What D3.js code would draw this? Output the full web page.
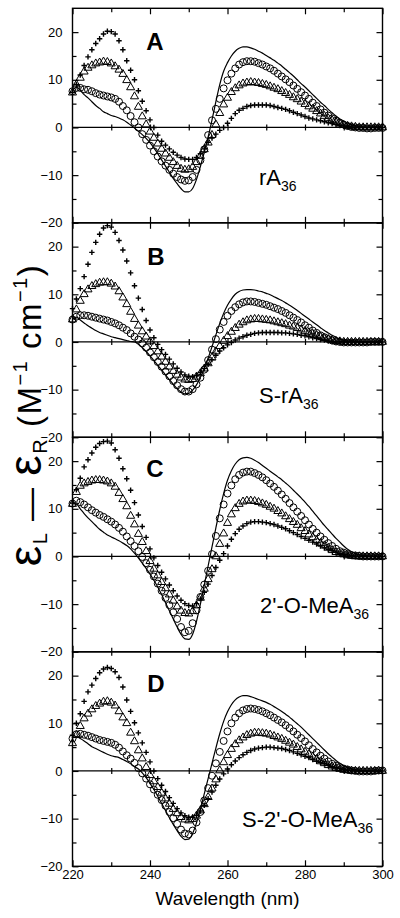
<!DOCTYPE html>
<html><head><meta charset="utf-8">
<script src="https://cdn.jsdelivr.net/npm/d3@7"></script>
<style>body{margin:0;background:#fff}svg{display:block}text{font-family:"Liberation Sans",Arial,Helvetica,sans-serif;fill:#000}</style>
</head><body><svg id="c" width="400" height="918"></svg>
<script>
const wavelength = [220,221,222,223,224,225,226,227,228,229,230,231,232,233,234,235,236,237,238,239,240,241,242,243,244,245,246,247,248,249,250,251,252,253,254,255,256,257,258,259,260,261,262,263,264,265,266,267,268,269,270,271,272,273,274,275,276,277,278,279,280,281,282,283,284,285,286,287,288,289,290,291,292,293,294,295,296,297,298,299,300];

// Panel A (rA36)
const solidA = [7.7,8.4,7.8,6.9,6.2,5.4,4.6,4.0,3.3,2.9, 2.5,2.3,2.0,1.6,1.1,0.5,-0.1,-0.8,-1.5,-2.3, -3.2,-4.3,-5.5,-6.8,-8.1,-9.4,-10.7,-11.8,-12.8,-13.5, -13.5,-12.8,-10.9,-8.2,-5.2,-2.0,1.6,5.4,9.0,11.8, 13.6,15.0,16.0,16.6,16.9,16.9,16.7,16.4,16.0,15.6, 15.1,14.6,14.1,13.5,12.9,12.2,11.5,10.8,10.0,9.2, 8.5,7.7,6.9,6.1,5.3,4.6,3.8,3.1,2.4,1.8, 1.3,0.9,0.6,0.4,0.2,0.1,0,0,0,0,0];
const circA = [7.6,8.3,8.3,8.0,7.9,7.6,7.2,6.9,6.7,6.5, 6.3,6.0,5.4,4.5,3.6,2.4,1.1,0.0,-1.4,-2.6, -3.8,-5.0,-6.1,-7.1,-8.0,-8.9,-9.7,-10.4,-10.9,-11.2, -11.1,-10.4,-8.9,-6.9,-4.6,-1.6,1.5,3.9,6.0,8.2, 9.9,11.3,12.4,13.2,13.7,13.9,13.9,13.8,13.5,13.2, 12.8,12.4,11.9,11.3,10.7,10.1,9.5,8.8,8.1,7.4, 6.7,6.0,5.2,4.5,3.8,3.1,2.5,1.9,1.4,1.0, 0.6,0.3,0.1,0.0,-0.1,-0.1,-0.2,-0.2,-0.1,-0.1,-0.1];
const triA = [7.3,9.0,10.4,11.7,12.5,13.0,13.4,13.6,13.8,13.7, 13.4,12.8,12.1,11.2,9.9,8.4,6.5,4.3,2.3,0.6, -0.9,-2.2,-3.4,-4.5,-5.5,-6.4,-7.3,-8.1,-8.7,-8.9, -8.8,-8.3,-7.3,-6.0,-4.6,-3.2,-1.6,0.6,3.0,4.8, 6.2,7.4,8.2,8.8,9.2,9.4,9.5,9.4,9.3,9.1, 8.9,8.6,8.3,8.0,7.6,7.2,6.8,6.3,5.9,5.4, 4.9,4.4,3.9,3.4,2.9,2.4,1.9,1.5,1.1,0.8, 0.5,0.3,0.2,0.1,0,0,0,0,0,0,0];
const plusA = [7.4,9.0,11.0,13.0,14.8,16.3,17.6,18.6,19.6,20.2, 20.1,19.6,18.2,16.3,14.0,12.0,10.0,7.7,5.5,3.5, 1.6,0.0,-1.6,-2.9,-3.7,-4.5,-5.2,-5.8,-6.3,-6.6, -6.7,-6.7,-6.3,-5.5,-4.5,-3.1,-2.2,-1.4,-0.6,0.0, 0.9,1.9,2.9,3.6,4.0,4.4,4.6,4.7,4.7,4.7, 4.7,4.6,4.4,4.2,4.0,3.8,3.5,3.2,2.9,2.6, 2.3,2.0,1.8,1.6,1.4,1.2,1.0,0.8,0.6,0.4, 0.3,0.2,0.1,0,0,0,0,0,0,0,0];

// Panel B (S-rA36)
const solidB = [4.8,5.2,4.6,4.0,3.4,2.9,2.4,2.0,1.7,1.4, 1.1,0.9,0.7,0.5,0.3,0.1,0.0,-0.5,-1.2,-2.0, -2.9,-3.9,-4.9,-5.9,-6.9,-7.9,-8.9,-9.8,-10.5,-10.9, -10.8,-10.1,-9.0,-7.4,-5.6,-3.4,-1.0,1.5,3.9,6.0, 7.7,9.0,10.0,10.6,10.9,11.0,11.0,10.9,10.7,10.5, 10.2,9.9,9.5,9.1,8.7,8.2,7.7,7.2,6.6,6.0, 5.4,4.8,4.2,3.6,3.0,2.4,1.9,1.4,1.0,0.6, 0.3,0.1,0,0,0,0,0,0,0,0,0];
const circB = [4.7,5.3,5.6,5.6,5.5,5.3,5.1,4.9,4.7,4.5, 4.2,3.9,3.5,3.0,2.5,1.8,1.1,0.5,-0.3,-1.2, -2.2,-3.2,-4.2,-5.2,-6.2,-7.2,-8.2,-9.1,-9.9,-10.4, -10.4,-9.9,-8.9,-7.5,-5.8,-3.8,-1.6,0.6,2.6,4.2, 5.5,6.5,7.3,7.9,8.3,8.5,8.5,8.4,8.2,8.0, 7.8,7.5,7.2,6.9,6.5,6.1,5.6,5.1,4.6,4.1, 3.5,3.0,2.4,1.9,1.4,1.0,0.6,0.3,0.1,0.0, -0.1,-0.1,-0.1,-0.1,-0.1,-0.1,-0.1,0,0,0,0];
const triB = [4.7,6.8,8.6,10.0,11.0,11.7,12.1,12.4,12.5,12.5, 12.2,11.6,10.6,9.3,7.9,6.3,4.8,3.4,2.2,1.1, 0.1,-0.9,-2.0,-3.1,-4.2,-5.2,-6.1,-6.9,-7.5,-7.9, -8.0,-7.8,-7.3,-6.6,-5.6,-4.5,-3.3,-2.0,-0.9,0.2, 1.2,2.1,2.9,3.6,4.1,4.5,4.7,4.8,4.8,4.7, 4.6,4.5,4.3,4.1,3.9,3.7,3.4,3.2,2.9,2.6, 2.3,2.0,1.7,1.4,1.1,0.8,0.6,0.4,0.2,0.1, 0,0,0,0,0,0,0,0,0,0,0];
const plusB = [7.0,9.0,11.2,13.7,16.3,18.8,20.9,22.6,23.9,24.4, 24.1,23.0,21.3,19.3,17.0,14.5,11.8,9.2,6.8,4.5, 2.5,0.9,-0.5,-1.6,-2.6,-3.6,-4.6,-5.5,-6.3,-6.9, -7.2,-7.3,-7.0,-6.4,-5.6,-4.7,-3.7,-2.8,-1.9,-1.2, -0.6,-0.1,0.4,0.8,1.1,1.4,1.6,1.8,1.9,2.0, 2.0,2.0,2.0,2.0,1.9,1.9,1.8,1.7,1.6,1.4, 1.3,1.1,0.9,0.7,0.5,0.4,0.2,0.1,0,0, 0,0,0,0,0,0,0,0,0,0,0];

// Panel C (2'-O-MeA36)
const solidC = [11.1,11.0,10.0,9.0,8.1,7.3,6.5,5.7,5.1,4.5, 4.1,3.7,3.3,2.8,2.3,1.6,0.7,-0.3,-1.4,-2.5, -3.7,-5.0,-6.4,-8.0,-9.7,-11.4,-13.1,-14.8,-16.3,-17.3, -17.4,-16.3,-13.6,-10.0,-6.0,-2.0,2.0,6.0,9.8,13.2, 16.0,18.0,19.4,20.3,20.7,20.8,20.6,20.2,19.7,19.1, 18.5,17.9,17.3,16.7,16.1,15.4,14.7,13.9,13.1,12.3, 11.4,10.5,9.5,8.5,7.5,6.5,5.6,4.7,3.8,3.0, 2.2,1.5,1.0,0.6,0.3,0.2,0.1,0,0,0,0];
const circC = [11.1,11.7,11.4,10.9,10.3,9.7,9.2,8.7,8.3,7.8, 7.3,6.7,6.0,5.2,4.2,3.2,2.2,1.1,-0.1,-1.4, -2.8,-4.2,-5.7,-7.2,-8.7,-10.2,-11.7,-13.1,-14.8,-15.9, -15.6,-14.0,-11.3,-8.5,-5.9,-3.0,0.5,4.3,8.0,10.9, 13.2,14.9,16.2,17.1,17.6,17.8,17.8,17.5,17.1,16.6, 16.0,15.3,14.6,13.8,13.0,12.1,11.2,10.3,9.4,8.5, 7.6,6.7,5.8,5.0,4.2,3.5,2.8,2.2,1.6,1.1, 0.8,0.5,0.3,0.2,0.1,0,0,0,0,0,0];
const triC = [11.0,13.5,14.8,15.3,15.6,15.9,16.0,16.0,15.9,15.7, 15.3,14.6,13.3,12.0,10.5,8.5,6.7,4.7,3.0,1.1, -1.0,-2.6,-4.0,-5.4,-6.7,-8.0,-9.3,-10.5,-11.4,-11.9, -12.0,-11.5,-10.3,-8.7,-6.8,-4.8,-2.7,0.0,2.6,4.8, 7.0,8.8,10.1,11.0,11.5,11.7,11.7,11.6,11.4,11.1, 10.8,10.4,10.0,9.5,9.0,8.4,7.8,7.2,6.6,5.9, 5.3,4.6,4.0,3.4,2.8,2.3,1.8,1.3,0.9,0.6, 0.4,0.2,0.1,0,0,0,0,0,0,0,0];
const plusC = [11.2,14.0,16.4,18.8,20.3,21.7,22.9,23.7,24.1,24.2, 23.8,22.4,20.6,18.4,16.3,13.9,11.3,8.7,6.3,4.0, 1.6,-0.3,-1.9,-3.3,-4.7,-6.0,-7.2,-8.3,-9.2,-9.9, -10.3,-10.4,-9.9,-8.9,-7.5,-5.8,-4.0,-2.3,-0.8,0.6, 2.2,3.6,4.8,5.7,6.4,6.9,7.2,7.3,7.3,7.2, 7.1,6.9,6.7,6.4,6.1,5.8,5.4,5.0,4.6,4.2, 3.8,3.4,3.0,2.6,2.2,1.8,1.5,1.2,0.9,0.6, 0.4,0.3,0.2,0.1,0,0,0,0,0,0,0];

// Panel D (S-2'-O-MeA36)
const solidD = [6.9,7.2,6.8,6.3,5.7,5.1,4.7,4.3,3.9,3.5, 3.2,3.0,2.8,2.4,2.0,1.5,0.9,0.4,-0.4,-1.4, -2.6,-3.9,-5.3,-6.8,-8.3,-9.8,-11.2,-12.5,-13.7,-14.4, -14.3,-13.1,-10.9,-8.0,-4.8,-1.6,1.6,4.8,7.8,10.4, 12.4,13.9,14.9,15.5,15.8,15.8,15.6,15.3,15.0,14.7, 14.4,14.0,13.5,13.0,12.5,11.9,11.3,10.6,9.9,9.2, 8.4,7.6,6.8,6.0,5.2,4.4,3.6,2.9,2.2,1.6, 1.1,0.7,0.4,0.2,0.1,0,0,0,0,0,0];
const circD = [6.8,7.7,7.8,7.6,7.4,7.1,6.8,6.5,6.3,6.1, 5.9,5.5,4.9,4.1,3.3,2.6,1.7,0.6,-0.5,-1.6, -2.8,-3.9,-5.0,-6.1,-7.3,-8.6,-9.9,-11.1,-12.3,-13.1, -13.3,-12.5,-10.8,-8.6,-6.2,-3.6,-1.0,1.6,4.0,6.3, 8.3,10.0,11.2,12.1,12.7,13.0,13.1,13.0,12.8,12.5, 12.1,11.7,11.2,10.7,10.2,9.6,9.0,8.3,7.6,6.9, 6.2,5.4,4.6,3.9,3.2,2.6,2.0,1.5,1.1,0.8, 0.5,0.3,0.1,0,-0.1,-0.1,-0.1,-0.1,0,0.1,0.1];
const triD = [5.8,7.5,9.4,11.0,12.0,12.9,13.6,14.1,14.5,14.6, 14.3,13.7,12.5,11.2,10.0,8.0,6.2,4.3,2.6,0.8, -0.9,-2.2,-3.4,-4.6,-5.8,-6.9,-8.0,-8.9,-9.7,-10.2, -10.4,-10.1,-9.4,-8.3,-7.0,-5.5,-3.7,-1.8,0.1,1.8, 3.3,4.6,5.6,6.4,7.0,7.5,7.8,8.0,8.0,7.9, 7.8,7.6,7.3,7.0,6.7,6.3,5.9,5.5,5.0,4.5, 4.0,3.5,3.0,2.5,2.0,1.6,1.2,0.9,0.6,0.4, 0.2,0.1,0,0,0,0,0,0,0,0,0];
const plusD = [7.5,10.0,12.0,14.6,16.6,18.0,19.4,20.6,21.4,21.7, 21.5,20.8,19.6,17.6,14.9,12.5,10.1,8.0,5.9,3.9, 1.9,0.0,-1.6,-3.0,-4.3,-5.6,-6.8,-7.9,-8.8,-9.4, -9.7,-9.7,-9.3,-8.4,-7.2,-5.8,-4.4,-3.0,-1.7,-0.6, 0.4,1.3,2.1,2.8,3.4,3.9,4.3,4.6,4.8,4.9, 5.0,5.0,4.9,4.8,4.7,4.5,4.3,4.0,3.7,3.4, 3.1,2.8,2.4,2.1,1.8,1.5,1.2,0.9,0.7,0.5, 0.3,0.2,0.1,0,0,0,0,0,0,0,0];

const panelLetters = ["A", "B", "C", "D"];
const panelNames = ["rA", "S-rA", "2'-O-MeA", "S-2'-O-MeA"];
const panelSubs = ["36", "36", "36", "36"];
const yTickLabels = [-20, -10, 0, 10, 20];
const yMinorTicks = [-15, -5, 5, 15];
const xTickLabels = [220, 240, 260, 280, 300];
const xMinorTicks = [230, 250, 270, 290];
const xLabel = "Wavelength (nm)";

const series = [
  {solid: solidA, circ: circA, tri: triA, plus: plusA},
  {solid: solidB, circ: circB, tri: triB, plus: plusB},
  {solid: solidC, circ: circC, tri: triC, plus: plusC},
  {solid: solidD, circ: circD, tri: triD, plus: plusD}
];

const svg = d3.select("#c");
svg.append("rect").attr("width", 400).attr("height", 918).attr("fill", "#fff");

const L = 72.5, R = 382.5, H = 214.5;
const tops = [8.3, 222.8, 437.3, 651.8];
const labelPos = [[259, 185], [259, 403], [260, 613], [242, 827]];
const letterPos = [[155, 50], [156, 265], [155, 477], [156, 692]];

const x = d3.scaleLinear().domain([220, 300]).range([L, R]);

series.forEach((s, i) => {
  const top = tops[i];
  const y = d3.scaleLinear().domain([-20, 25]).range([top + H, top]);
  const g = svg.append("g");

  g.append("line").attr("x1", L).attr("x2", R).attr("y1", y(0)).attr("y2", y(0))
    .attr("stroke", "#000").attr("stroke-width", 1.2);
  const zt = [230, 240, 250, 260, 270, 280, 290];
  g.append("g").attr("transform", `translate(0,${y(0)})`)
    .call(d3.axisBottom(x).tickValues(zt).tickSize(3).tickFormat(""));
  g.append("g").attr("transform", `translate(0,${y(0)})`)
    .call(d3.axisTop(x).tickValues(zt).tickSize(3).tickFormat(""));

  g.append("g").attr("transform", `translate(${L},0)`)
    .call(d3.axisLeft(y).tickValues(yTickLabels).tickSize(-6).tickPadding(10).tickFormat(d3.format("d")))
    .call(a => a.selectAll("text").attr("font-size", 13).attr("font-family", "Liberation Sans, Arial, sans-serif"));
  g.append("g").attr("transform", `translate(${L},0)`)
    .call(d3.axisLeft(y).tickValues(yMinorTicks).tickSize(-4).tickFormat(""));
  g.append("g").attr("transform", `translate(${R},0)`)
    .call(d3.axisRight(y).tickValues(yTickLabels).tickSize(-6).tickFormat(""));
  g.append("g").attr("transform", `translate(${R},0)`)
    .call(d3.axisRight(y).tickValues(yMinorTicks).tickSize(-4).tickFormat(""));
  g.append("g").attr("transform", `translate(0,${top})`)
    .call(d3.axisTop(x).tickValues(xTickLabels).tickSize(-6).tickFormat(""));
  g.append("g").attr("transform", `translate(0,${top})`)
    .call(d3.axisTop(x).tickValues(xMinorTicks).tickSize(-4).tickFormat(""));
  const bot = g.append("g").attr("transform", `translate(0,${top + H})`)
    .call(d3.axisBottom(x).tickValues(xTickLabels).tickSize(-6).tickPadding(3)
      .tickFormat(i === 3 ? d3.format("d") : ""));
  bot.selectAll("text").attr("font-size", 13).attr("font-family", "Liberation Sans, Arial, sans-serif");
  g.append("g").attr("transform", `translate(0,${top + H})`)
    .call(d3.axisBottom(x).tickValues(xMinorTicks).tickSize(-4).tickFormat(""));

  g.selectAll(".domain").remove();
  g.selectAll(".tick line").attr("stroke", "#000").attr("stroke-width", 1.2);
  g.selectAll(".tick text").attr("fill", "#000");

  g.append("rect").attr("x", L).attr("y", top).attr("width", R - L).attr("height", H)
    .attr("fill", "none").attr("stroke", "#000").attr("stroke-width", 1.4);

  const line = d3.line().x((d, j) => x(wavelength[j])).y(d => y(d)).curve(d3.curveMonotoneX);
  g.append("path").datum(s.solid).attr("d", line).attr("fill", "none")
    .attr("stroke", "#000").attr("stroke-width", 1.2);

  g.append("g").selectAll("circle").data(s.circ).join("circle")
    .attr("cx", (d, j) => x(wavelength[j])).attr("cy", d => y(d)).attr("r", 3.5)
    .attr("fill", "none").attr("stroke", "#000").attr("stroke-width", 1);
  const tri = d3.symbol().type(d3.symbolTriangle).size(28);
  g.append("g").selectAll("path").data(s.tri).join("path")
    .attr("d", tri).attr("transform", (d, j) => `translate(${x(wavelength[j])},${y(d)})`)
    .attr("fill", "none").attr("stroke", "#000").attr("stroke-width", 1);
  g.append("g").selectAll("path").data(s.plus).join("path")
    .attr("d", "M-2.7,0H2.7M0,-2.7V2.7").attr("transform", (d, j) => `translate(${x(wavelength[j])},${y(d)})`)
    .attr("fill", "none").attr("stroke", "#000").attr("stroke-width", 1.4);

  g.append("text").attr("x", letterPos[i][0]).attr("y", letterPos[i][1]).attr("text-anchor", "middle")
    .attr("font-size", 24).attr("font-weight", "bold").text(panelLetters[i]);
  const t = g.append("text").attr("x", labelPos[i][0]).attr("y", labelPos[i][1]).attr("font-size", 22);
  t.append("tspan").text(panelNames[i]);
  t.append("tspan").attr("font-size", 14).attr("dy", 6).text(panelSubs[i]);
});

svg.append("text").attr("x", (L + R) / 2).attr("y", 905).attr("text-anchor", "middle")
  .attr("font-size", 19).text(xLabel);

// y-axis title (rotated)
const yt = svg.append("text").attr("transform", "translate(41,415) rotate(-90)")
  .attr("text-anchor", "middle").attr("font-size", 33).attr("letter-spacing", 1.5);
yt.append("tspan").attr("font-size", 46).text("ε");
yt.append("tspan").attr("font-size", 20).attr("dy", 6).text("L");
yt.append("tspan").attr("dy", -6).text(" — ");
yt.append("tspan").attr("font-size", 46).text("ε");
yt.append("tspan").attr("font-size", 20).attr("dy", 6).text("R");
yt.append("tspan").attr("dy", -6).text(" (M");
yt.append("tspan").attr("font-size", 20).attr("dy", -14).text("−1");
yt.append("tspan").attr("dy", 14).text(" cm");
yt.append("tspan").attr("font-size", 20).attr("dy", -14).text("−1");
yt.append("tspan").attr("dy", 14).text(")");
</script></body></html>
